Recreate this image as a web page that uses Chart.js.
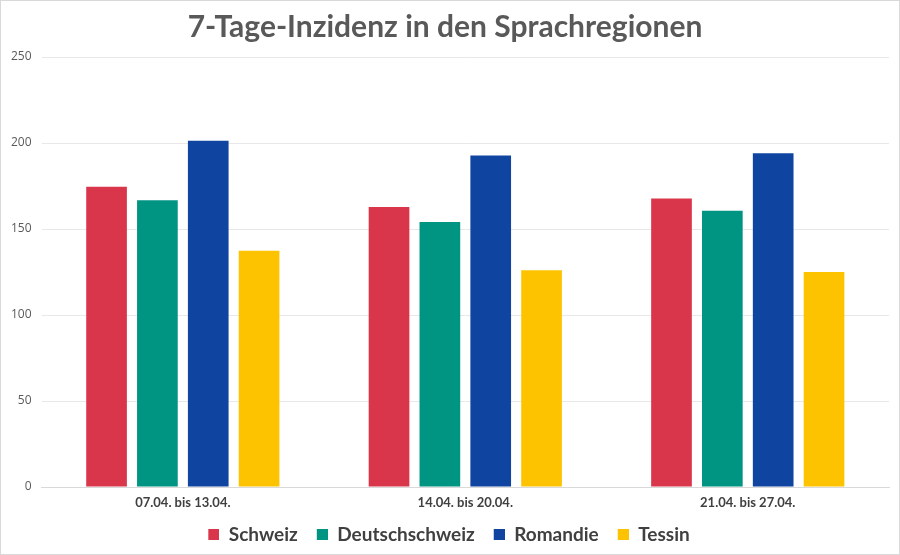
<!DOCTYPE html>
<html>
<head>
<meta charset="utf-8">
<script src="https://cdn.jsdelivr.net/npm/chart.js@4"></script>
<style>
  html, body { margin: 0; padding: 0; background: #fff; }
  #wrap { width: 898px; height: 553px; border: 1px solid #d9d9d9; }
</style>
</head>
<body>
<div id="wrap"><canvas id="inzidenzChart" width="898" height="553"></canvas></div>
<script>
const weeks = ['07.04. bis 13.04.', '14.04. bis 20.04.', '21.04. bis 27.04.'];
const schweiz = [174.5, 162.8, 167.8];
const deutschschweiz = [166.7, 154, 160.6];
const romandie = [201.3, 192.8, 194];
const tessin = [137.3, 126, 125];
const colors = ['#d9364b', '#009483', '#0f44a0', '#fdc300'];

// legend swatch: small square with some empty room on its left
function swatch(color) {
    const c = document.createElement('canvas');
    c.width = 19;
    c.height = 11;
    const g = c.getContext('2d');
    g.fillStyle = color;
    g.fillRect(8, 0, 11, 11);
    return c;
}
const swatches = colors.map(swatch);

const chartContext = document.getElementById('inzidenzChart');

new Chart(chartContext, {
    type: 'bar',
    data: {
        labels: weeks,
        datasets: [
            { label: 'Schweiz', data: schweiz, backgroundColor: colors[0] },
            { label: 'Deutschschweiz', data: deutschschweiz, backgroundColor: colors[1] },
            { label: 'Romandie', data: romandie, backgroundColor: colors[2] },
            { label: 'Tessin', data: tessin, backgroundColor: colors[3] }
        ]
    },
    options: {
        responsive: false,
        animation: false,
        datasets: {
            bar: { barPercentage: 0.8, categoryPercentage: 0.72 }
        },
        layout: { padding: { left: 0, right: 10, top: 0, bottom: 6 } },
        plugins: {
            title: {
                display: true,
                text: '7-Tage-Inzidenz in den Sprachregionen',
                color: '#595959',
                font: { family: 'Lato', size: 30, weight: 'bold' },
                padding: { top: 8, bottom: 12 }
            },
            legend: {
                position: 'bottom',
                maxHeight: 34,
                labels: {
                    color: '#404040',
                    font: { family: 'Lato', size: 19, weight: 'bold' },
                    usePointStyle: true,
                    pointStyleWidth: 19,
                    boxHeight: 11,
                    padding: 11,
                    generateLabels: (chart) =>
                        Chart.defaults.plugins.legend.labels.generateLabels(chart)
                            .map((item, i) => ({ ...item, pointStyle: swatches[i] }))
                }
            },
            tooltip: { enabled: false }
        },
        scales: {
            x: {
                grid: { display: false, drawTicks: false },
                border: { color: '#d9d9d9' },
                ticks: {
                    color: '#404040',
                    font: { family: 'Lato', size: 13, weight: 'bold' },
                    padding: 8
                },
                afterFit: (scale) => { scale.height = 27; }
            },
            y: {
                min: 0,
                max: 250,
                beginAtZero: true,
                border: { display: false },
                grid: { color: '#e8e8e8', drawTicks: false },
                ticks: {
                    stepSize: 50,
                    color: '#595959',
                    font: { family: 'Open Sans', size: 12 },
                    padding: 10
                }
            }
        }
    }
});
</script>
</body>
</html>
